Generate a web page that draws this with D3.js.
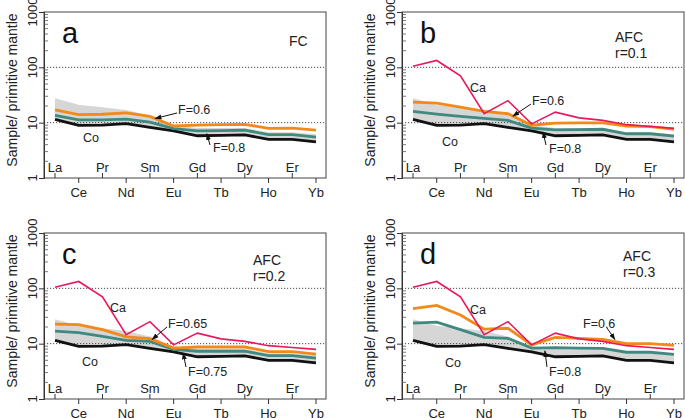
<!DOCTYPE html>
<html><head><meta charset="utf-8">
<script src="https://cdn.jsdelivr.net/npm/d3@7"></script>
<style>body{margin:0;background:#fff}svg{display:block;font-family:"Liberation Sans",Arial,sans-serif}</style>
</head><body><svg id="c" width="685" height="418"></svg>
<script>
// ---- data ----
const elements = ["La","Ce","Pr","Nd","Sm","Eu","Gd","Tb","Dy","Ho","Er","Yb"];
const yTicks = [1, 10, 100, 1000];
const coValues = [11.5, 8.9, 9.0, 9.6, 8.2, 7.1, 5.8, 5.9, 6.0, 5.0, 5.0, 4.5];
const caValues = [105, 133, 70, 14.5, 25, 9.5, 15.5, 12.2, 11, 9.2, 8.5, 7.9];
const bandUpper = [27.5, 21, 19, 17, 13.5, 9.0, 8.0, 8.0, 8.0, 6.7, 6.7, 6.2];
const aOrange = [17, 14, 14.2, 15, 13, 8.7, 9.0, 9.2, 9.3, 7.9, 8.0, 7.3];
const aTeal   = [13.5, 11.2, 11.2, 11.6, 10.2, 7.8, 7.1, 7.2, 7.3, 6.1, 6.1, 5.5];
const bOrange = [23.5, 22.5, 19, 16, 14.5, 9.0, 9.8, 9.9, 9.9, 8.7, 8.5, 7.6];
const bTeal   = [16, 14.3, 13, 12, 11, 8.0, 7.4, 7.5, 7.6, 6.3, 6.3, 5.7];
const cOrange = [22.5, 22, 18, 13.3, 12.3, 8.3, 8.7, 8.7, 8.7, 7.2, 7.2, 6.5];
const cTeal   = [16.8, 15.8, 13.5, 11.5, 11, 7.9, 7.3, 7.3, 7.3, 6.1, 6.1, 5.5];
const dOrange = [43, 49, 33, 18.3, 19, 9.5, 13, 12.5, 12, 10, 10, 9.3];
const dTeal   = [23.5, 24.5, 18, 13, 12.5, 8.3, 8.5, 8.3, 8.2, 7.0, 7.0, 6.4];
const panelLetters = ["a","b","c","d"];
const panelTitles = [["FC"],["AFC","r=0.1"],["AFC","r=0.2"],["AFC","r=0.3"]];
const orangeLabels = ["F=0.6","F=0.6","F=0.65","F=0.6"];
const tealLabels = ["F=0.8","F=0.8","F=0.75","F=0.8"];

// ---- layout ----
const W = 282, H = 166;
const COL = {orange:"#f28a1a", teal:"#3f8a80", red:"#e8185a", black:"#111", band:"#d6d6d6"};
const panels = [
  {left:44, top:12, orange:aOrange, teal:aTeal, ca:false, title:[245,34],
   oText:[134,97], oTail:[133,101], oF:4.22, oDy:0,
   tText:[169,135], tTail:[166,133], tF:6.4, tDy:3, co:[39,125]},
  {left:402, top:12, orange:bOrange, teal:bTeal, ca:true, title:[213,30], caPos:[68,75],
   oText:[130,88], oTail:[129,92], oF:4.21, oDy:0,
   tText:[147,136], tTail:[144,133], tF:5.48, tDy:3, co:[40,129]},
  {left:44, top:233, orange:cOrange, teal:cTeal, ca:true, title:[209,32], caPos:[66,74],
   oText:[124,90], oTail:[123,94], oF:4.09, oDy:0,
   tText:[144,138], tTail:[142,134], tF:5.4, tDy:3, co:[38,128]},
  {left:402, top:233, orange:dOrange, teal:dTeal, ca:true, title:[221,28], caPos:[68,76],
   oText:[181,90], oTail:[205,95], oF:8.51, oDy:-2,
   tText:[147,138], tTail:[145,134], tF:5.56, tDy:3, co:[43,129]}
];

const svg = d3.select("#c");
const defs = svg.append("defs");
defs.append("marker").attr("id","ah").attr("viewBox","0 0 10 10").attr("refX",9).attr("refY",5)
  .attr("markerWidth",7).attr("markerHeight",7).attr("orient","auto-start-reverse")
  .append("path").attr("d","M0,1.5L10,5L0,8.5z").attr("fill","#111");

panels.forEach((p, i) => {
  const g = svg.append("g");
  const x = d3.scalePoint().domain(elements).range([p.left + 11, p.left + 272]);
  const y = d3.scaleLog().domain([1, 1000]).range([p.top + H, p.top]);
  const xi = k => x(elements[0]) + k * x.step();
  const valAt = (arr, f) => { const k = Math.floor(f), t = f - k;
    return Math.pow(10, Math.log10(arr[k]) * (1 - t) + Math.log10(arr[k + 1]) * t); };

  // band
  const area = d3.area().x((d, j) => x(elements[j])).y0((d, j) => y(coValues[j])).y1(d => y(d));
  g.append("path").attr("d", area(bandUpper)).attr("fill", COL.band);

  // gridlines
  [10, 100].forEach(v => g.append("line").attr("x1", p.left).attr("x2", p.left + W)
    .attr("y1", y(v)).attr("y2", y(v)).attr("stroke", "#333").attr("stroke-width", 0.9)
    .attr("stroke-dasharray", "1.2,1.8"));

  const line = d3.line().x((d, j) => x(elements[j])).y(d => y(d));
  g.append("path").attr("d", line(coValues)).attr("fill", "none").attr("stroke", COL.black).attr("stroke-width", 2.8);
  g.append("path").attr("d", line(p.teal)).attr("fill", "none").attr("stroke", COL.teal).attr("stroke-width", 2.8);
  g.append("path").attr("d", line(p.orange)).attr("fill", "none").attr("stroke", COL.orange).attr("stroke-width", 2.8);
  if (p.ca) g.append("path").attr("d", line(caValues)).attr("fill", "none").attr("stroke", COL.red).attr("stroke-width", 1.6);

  // frame
  g.append("rect").attr("x", p.left).attr("y", p.top).attr("width", W).attr("height", H)
    .attr("fill", "none").attr("stroke", "#444").attr("stroke-width", 1);

  // y axis
  const yAx = d3.axisLeft(y).tickValues(yTicks).tickSize(5).tickFormat("");
  const ya = g.append("g").attr("transform", `translate(${p.left},0)`).call(yAx);
  ya.select(".domain").attr("stroke", "#333");
  ya.selectAll(".tick line").attr("stroke", "#333");
  const minor = [];
  for (let dcd = 1; dcd < 1000; dcd *= 10) for (let m = 2; m <= 9; m++) minor.push(dcd * m);
  g.selectAll(".mn").data(minor).enter().append("line")
    .attr("x1", p.left).attr("x2", p.left + 4).attr("y1", d => y(d)).attr("y2", d => y(d))
    .attr("stroke", "#555").attr("stroke-width", 0.8);
  yTicks.forEach(v => g.append("text").attr("transform", `translate(${p.left - 7},${y(v)}) rotate(-90)`)
    .attr("text-anchor", "middle").attr("font-size", 13).attr("fill", "#222").text(v));
  g.append("text").attr("transform", `translate(${p.left - 27},${p.top + 78}) rotate(-90)`)
    .attr("text-anchor", "middle").attr("font-size", 14).attr("fill", "#222").text("Sample/ primitive mantle");

  // x ticks + labels
  elements.forEach((e, j) => {
    const inner = j % 2 === 0;
    const yb = p.top + H;
    g.append("line").attr("x1", x(e)).attr("x2", x(e)).attr("y1", yb).attr("y2", inner ? yb - 5 : yb + 5)
      .attr("stroke", "#333").attr("stroke-width", 1);
    g.append("text").attr("x", x(e)).attr("y", inner ? yb - 6 : yb + 19)
      .attr("text-anchor", "middle").attr("font-size", 13).attr("fill", "#222").text(e);
  });

  // letter & titles
  g.append("text").attr("x", p.left + 18).attr("y", p.top + 31).attr("font-size", 29).attr("fill", "#111").text(panelLetters[i]);
  panelTitles[i].forEach((t, k) => g.append("text").attr("x", p.left + p.title[0]).attr("y", p.top + p.title[1] + k * 16)
    .attr("font-size", 14).attr("fill", "#222").text(t));

  // annotations
  const lab = (pos, t) => g.append("text").attr("x", p.left + pos[0]).attr("y", p.top + pos[1] + 4.5)
    .attr("font-size", 12.5).attr("fill", "#222").text(t);
  lab(p.co, "Co");
  if (p.ca) lab(p.caPos, "Ca");
  lab(p.oText, orangeLabels[i]);
  lab(p.tText, tealLabels[i]);
  const arrow = (tail, f, arr, dy) => g.append("line")
    .attr("x1", p.left + tail[0]).attr("y1", p.top + tail[1])
    .attr("x2", xi(f)).attr("y2", y(valAt(arr, f)) + dy)
    .attr("stroke", "#111").attr("stroke-width", 1).attr("marker-end", "url(#ah)");
  arrow(p.oTail, p.oF, p.orange, p.oDy);
  arrow(p.tTail, p.tF, p.teal, p.tDy);
});
</script></body></html>
